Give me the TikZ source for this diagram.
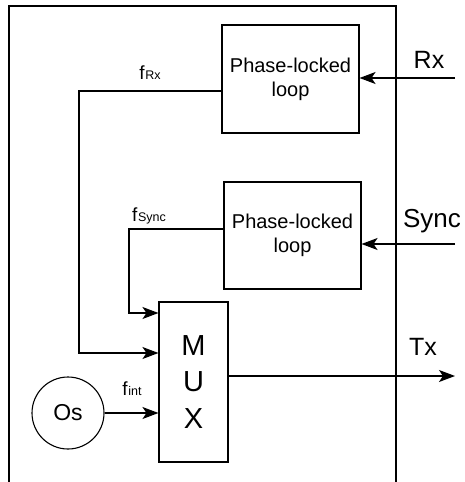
\documentclass[tikz,border=0pt]{standalone}
\usepackage{fontspec}
\setmainfont{Liberation Sans}
\usetikzlibrary{arrows.meta}
\begin{document}
\begin{tikzpicture}[x=1pt,y=-1pt,line width=1.1pt,
  box/.style={draw,rectangle,inner sep=0pt,align=center},
  arr/.style={-{Stealth[length=16pt,width=12pt,inset=4pt]}},
  lbl/.style={inner sep=0pt},
  flbl/.style={inner sep=0pt,font=\fontsize{19}{19}\selectfont}]
\newcommand{\fsubtxt}[1]{\kern0.8pt{\fontsize{12.5}{12.5}\selectfont #1}}
\useasboundingbox (0,0) rectangle (464,482);
% outer frame (open at bottom)
\draw (9,482) -- (9,6) -- (396,6) -- (396,482);
% blocks
\node[box,minimum width=137pt,minimum height=108pt,font=\fontsize{20}{24}\selectfont] (pll1) at (290.5,79) {Phase-locked\\loop};
\node[box,minimum width=137pt,minimum height=107pt,font=\fontsize{20}{24}\selectfont] (pll2) at (292.5,235.5) {Phase-locked\\loop};
\node[box,minimum width=69pt,minimum height=160pt,font=\fontsize{29}{36.5}\selectfont] (mux) at (193.5,382) {M\\U\\X};
\node[draw,circle,minimum size=72pt,inner sep=0pt,font=\fontsize{23}{23}\selectfont] (os) at (68,413) {Os};
% external inputs/outputs
\coordinate (rxin) at (455,78);
\coordinate (syncin) at (455,244);
\coordinate (txout) at (455,376);
\draw[arr] (rxin) -- (rxin -| pll1.east);
\draw[arr] (syncin) -- (syncin -| pll2.east);
\draw[arr] (txout -| mux.east) -- (txout);
\node[lbl,font=\fontsize{25}{25}\selectfont] (rxl) at (429,60) {Rx};
\node[lbl,font=\fontsize{26}{26}\selectfont] (syncl) at (432,221) {Sync};
\node[lbl,font=\fontsize{25}{25}\selectfont] (txl) at (423,346.5) {Tx};
% internal connections
\coordinate (frx) at (222,91);
\coordinate (frxd) at (79,353);
\draw[arr] (frx) -| (frxd) -- (frxd -| mux.west);
\coordinate (fsy) at (224,229);
\coordinate (fsyd) at (129,313);
\draw[arr] (fsy) -| (fsyd) -- (fsyd -| mux.west);
\draw[arr] (os.east) -- (os.east -| mux.west);
% frequency labels
\node[flbl] (lfrx) at (150,73) {f\fsubtxt{Rx}};
\node[flbl] (lfsy) at (149,216) {f\fsubtxt{Sync}};
\node[flbl] (lfin) at (132,389) {f\fsubtxt{int}};
\end{tikzpicture}
\end{document}
